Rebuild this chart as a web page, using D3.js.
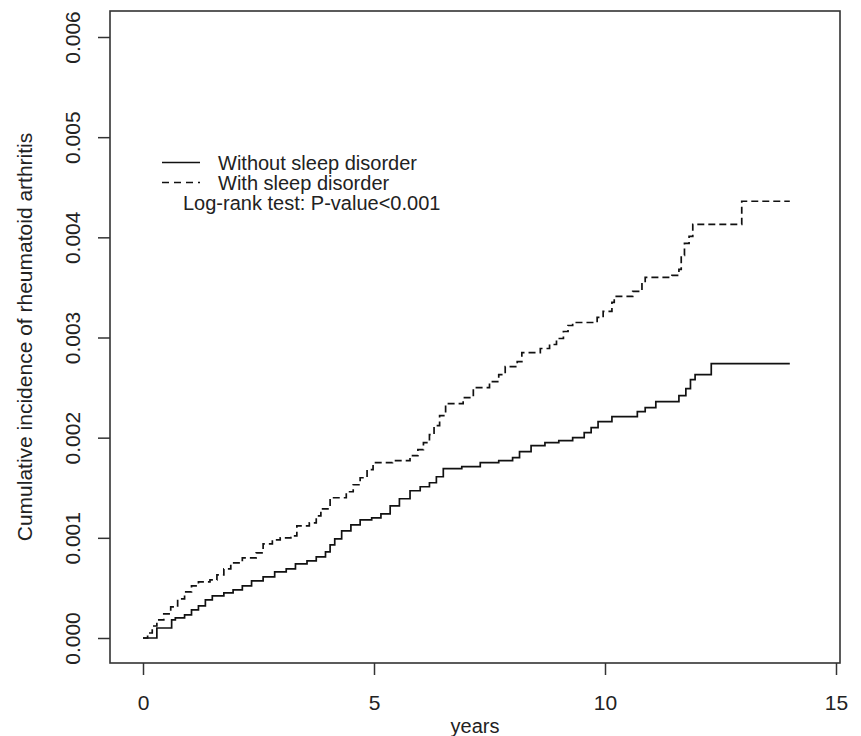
<!DOCTYPE html>
<html><head><meta charset="utf-8">
<script src="https://cdn.jsdelivr.net/npm/d3@7"></script>
<style>body{margin:0;background:#fff}svg{display:block}text{font-family:"Liberation Sans",Arial,sans-serif;fill:#222}</style>
</head><body>
<script>
const xTicks=[0,5,10,15];
const yTicks=[0,0.001,0.002,0.003,0.004,0.005,0.006];
const seriesNames=["Without sleep disorder","With sleep disorder"];
const noteText="Log-rank test: P-value<0.001";
const withoutT=[0,0.3,0.62,0.7,0.9,1.05,1.2,1.35,1.5,1.75,1.95,2.15,2.35,2.6,2.85,3.1,3.3,3.55,3.75,3.95,4.05,4.15,4.3,4.5,4.7,4.95,5.15,5.35,5.55,5.78,6.0,6.2,6.35,6.5,6.9,7.3,7.7,8.0,8.15,8.4,8.7,9.0,9.3,9.55,9.7,9.85,10.15,10.7,10.87,11.1,11.6,11.75,11.85,11.95,12.3,14.0];
const withoutV=[0,0.0001,0.00018,0.0002,0.00023,0.00028,0.00032,0.00038,0.00042,0.00045,0.00048,0.00052,0.00057,0.00061,0.00066,0.00069,0.00074,0.00077,0.00081,0.00086,0.00093,0.00099,0.00107,0.00113,0.00118,0.0012,0.00124,0.00132,0.00139,0.00147,0.00151,0.00155,0.00161,0.00169,0.00171,0.00175,0.00177,0.0018,0.00186,0.00192,0.00195,0.00197,0.002,0.00205,0.0021,0.00216,0.00221,0.00226,0.0023,0.00236,0.00242,0.00249,0.00258,0.00263,0.00274,0.00274];
const withT=[0,0.1,0.2,0.3,0.45,0.6,0.75,0.9,1.05,1.2,1.45,1.6,1.75,1.9,2.15,2.45,2.6,2.8,2.97,3.2,3.33,3.6,3.75,3.85,4.05,4.4,4.55,4.7,4.85,4.98,5.4,5.78,5.95,6.07,6.2,6.3,6.42,6.55,6.93,7.15,7.5,7.7,7.84,8.1,8.2,8.6,8.8,8.95,9.1,9.2,9.3,9.83,9.96,10.15,10.2,10.6,10.8,10.87,11.45,11.6,11.65,11.72,11.82,11.9,12.96,14.0];
const withV=[0,0.00005,0.00012,0.00018,0.00024,0.00031,0.00039,0.00046,0.00052,0.00056,0.00058,0.00063,0.00069,0.00075,0.0008,0.00085,0.00094,0.00098,0.001,0.00102,0.00112,0.00115,0.00122,0.00129,0.0014,0.00146,0.00153,0.0016,0.00168,0.00175,0.00177,0.00182,0.00188,0.00195,0.00203,0.00212,0.00222,0.00234,0.0024,0.0025,0.00256,0.00263,0.00271,0.00276,0.00285,0.00289,0.00293,0.00299,0.00306,0.00312,0.00315,0.0032,0.00326,0.00335,0.00341,0.00346,0.00355,0.0036,0.00362,0.00368,0.00382,0.00394,0.00401,0.00413,0.00436,0.00436];

const W=861,H=736;
const svg=d3.select("body").append("svg").attr("width",W).attr("height",H);
const x=d3.scaleLinear().domain([0,15]).range([143,836]);
const y=d3.scaleLinear().domain([0,0.006]).range([638,37]);
const fL=110,fT=11,fR=840,fB=663;
const FS=20;

svg.append("rect").attr("x",fL).attr("y",fT).attr("width",fR-fL).attr("height",fB-fT)
  .attr("fill","none").attr("stroke","#333").attr("stroke-width",1.6);

// x axis
const xa=svg.append("g").attr("transform",`translate(0,${fB})`)
  .call(d3.axisBottom(x).tickValues(xTicks).tickSize(12).tickPadding(20).tickFormat(d3.format("d")));
xa.select(".domain").remove();
xa.selectAll("line").attr("stroke","#333").attr("stroke-width",1.5);
xa.selectAll("text").attr("font-size",21).attr("fill","#222").style("font-family","Liberation Sans, Arial, sans-serif");

// y axis
const ya=svg.append("g").attr("transform",`translate(${fL},0)`)
  .call(d3.axisLeft(y).tickValues(yTicks).tickSize(12).tickFormat(d3.format(".3f")));
ya.select(".domain").remove();
ya.selectAll("line").attr("stroke","#333").attr("stroke-width",1.5);
ya.selectAll("text").attr("font-size",21).attr("fill","#222").style("font-family","Liberation Sans, Arial, sans-serif")
  .attr("x",null).attr("dy",null).attr("text-anchor","middle")
  .attr("transform","translate(-37,0) rotate(-90)").attr("dy","0.35em");

svg.append("text").attr("x",(fL+fR)/2).attr("y",733).attr("text-anchor","middle").attr("font-size",FS).text("years");
svg.append("text").attr("transform",`translate(32,${(fT+fB)/2}) rotate(-90)`).attr("text-anchor","middle").attr("font-size",21).text("Cumulative incidence of rheumatoid arthritis");

const line=d3.line().x(d=>x(d[0])).y(d=>y(d[1])).curve(d3.curveStepAfter);
const s1=withoutT.map((t,i)=>[t,withoutV[i]]);
const s2=withT.map((t,i)=>[t,withV[i]]);
svg.append("path").attr("d",line(s1)).attr("fill","none").attr("stroke","#111").attr("stroke-width",1.7);
svg.append("path").attr("d",line(s2)).attr("fill","none").attr("stroke","#111").attr("stroke-width",1.7).attr("stroke-dasharray","7,4");

// legend
const lg=svg.append("g");
lg.append("line").attr("x1",162).attr("x2",200).attr("y1",162.5).attr("y2",162.5).attr("stroke","#111").attr("stroke-width",1.6);
lg.append("line").attr("x1",162).attr("x2",200).attr("y1",182.5).attr("y2",182.5).attr("stroke","#111").attr("stroke-width",1.6).attr("stroke-dasharray","7,5");
lg.append("text").attr("x",218).attr("y",169.5).attr("font-size",FS).text(seriesNames[0]);
lg.append("text").attr("x",218).attr("y",189.5).attr("font-size",FS).text(seriesNames[1]);
lg.append("text").attr("x",183).attr("y",209.5).attr("font-size",FS).text(noteText);
</script>
</body></html>
